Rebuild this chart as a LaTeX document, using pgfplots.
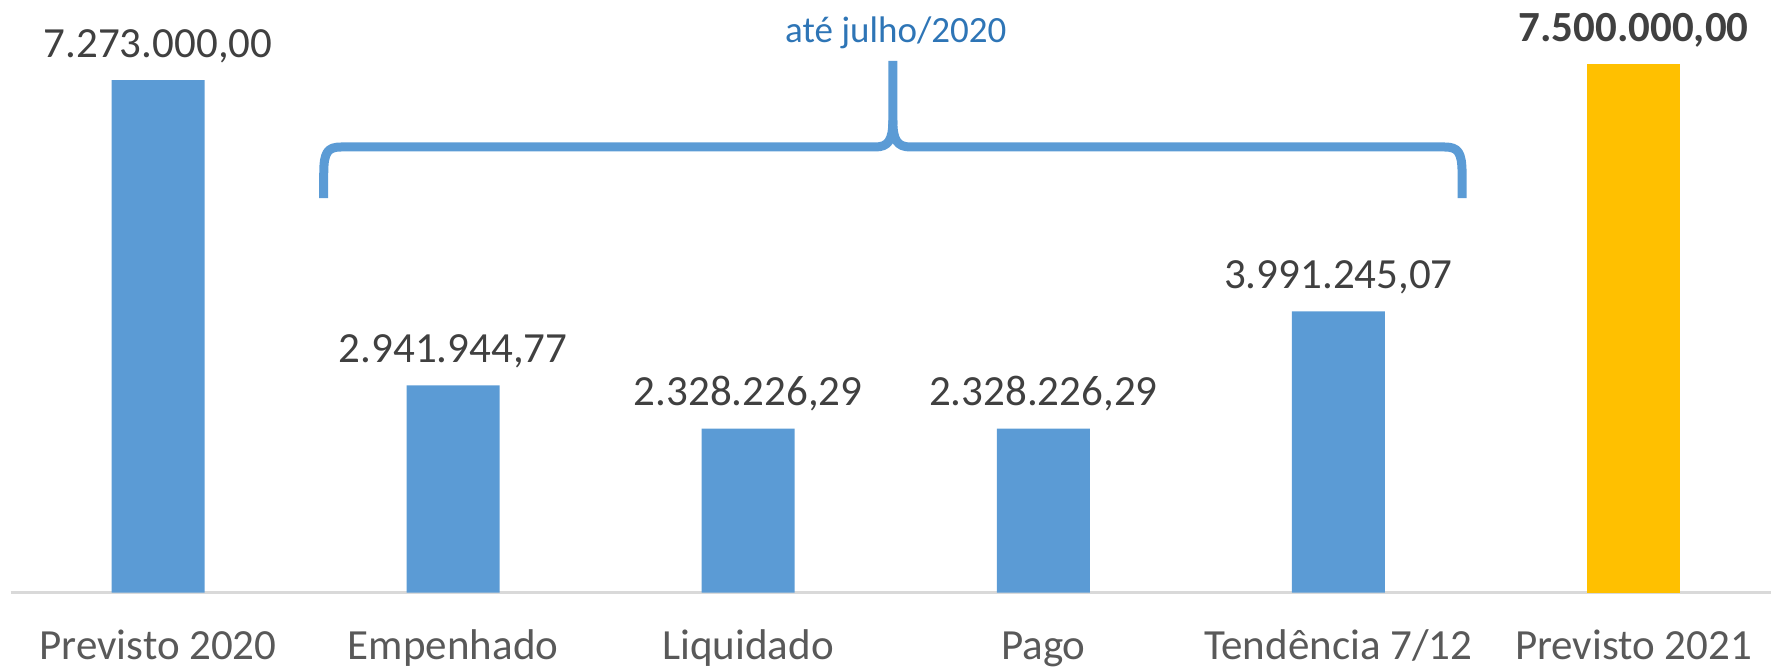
\documentclass[border=0pt]{standalone}
\usepackage{pgfplots}
\pgfplotsset{compat=1.18}
\usepackage{fontspec}
\setmainfont{Carlito}
\definecolor{barblue}{HTML}{5B9BD5}
\definecolor{baryellow}{HTML}{FFC000}
\definecolor{txtblue}{HTML}{2E75B6}
\definecolor{valgray}{HTML}{404040}
\definecolor{labgray}{HTML}{595959}
\definecolor{axgray}{HTML}{D9D9D9}

\pgfplotstableread{
x y label
0 7.273      7.273.000,00
1 2.94194477 2.941.944,77
2 2.32822629 2.328.226,29
3 2.32822629 2.328.226,29
4 3.99124507 3.991.245,07
}\bluedata
\pgfplotstableread{
x y label
5 7.5 7.500.000,00
}\yellowdata

\begin{document}
\begin{tikzpicture}[x=1pt,y=1pt]
\useasboundingbox (0,0) rectangle (885.5,335.5);
\begin{axis}[
  at={(5.25pt,39.15pt)}, anchor=south west,
  scale only axis, width=880.25pt, height=281.96pt,
  xmin=-0.5, xmax=5.466, ymin=0, ymax=8,
  axis x line*=bottom, axis y line=none,
  x axis line style={axgray, line width=1.25pt, -},
  xtick={0,1,2,3,4,5},
  xticklabels={Previsto 2020, Empenhado, Liquidado, Pago, Tendência 7/12, Previsto 2021},
  major tick length=0pt,
  xticklabel style={anchor=base, yshift=-33.5pt, font=\fontsize{21.5}{25}\selectfont, text=labgray},
  ytick=\empty,
  clip=false,
  ybar, bar width=46.5pt, bar shift=0pt,
  point meta=explicit symbolic,
  nodes near coords={\pgfplotspointmeta},
  every node near coord/.append style={anchor=base, yshift=11.5pt, font=\fontsize{21.5}{25}\selectfont, text=valgray},
]
\addplot[fill=barblue, draw=none] table[x=x, y=y, meta=label] {\bluedata};
\addplot[fill=baryellow, draw=none, every node near coord/.append style={font=\fontsize{21.5}{25}\selectfont\bfseries}] table[x=x, y=y, meta=label] {\yellowdata};
\draw[barblue, line width=4.5pt, line cap=butt, line join=round]
  (0.5615,5.599) -- (0.5615,5.95) .. controls (0.5615,6.25) and (0.575,6.323) .. (0.62,6.323)
  -- (2.43,6.323) .. controls (2.475,6.323) and (2.49,6.42) .. (2.49,6.7) -- (2.49,7.543);
\draw[barblue, line width=4.5pt, line cap=butt, line join=round]
  (2.49,6.7) .. controls (2.49,6.42) and (2.505,6.323) .. (2.55,6.323)
  -- (4.36,6.323) .. controls (4.405,6.323) and (4.419,6.25) .. (4.419,5.95) -- (4.419,5.599);
\node[anchor=base, text=txtblue, font=\fontsize{18.5}{21}\selectfont] at (axis cs:2.50,7.812) {até julho/2020};
\end{axis}
\end{tikzpicture}
\end{document}
